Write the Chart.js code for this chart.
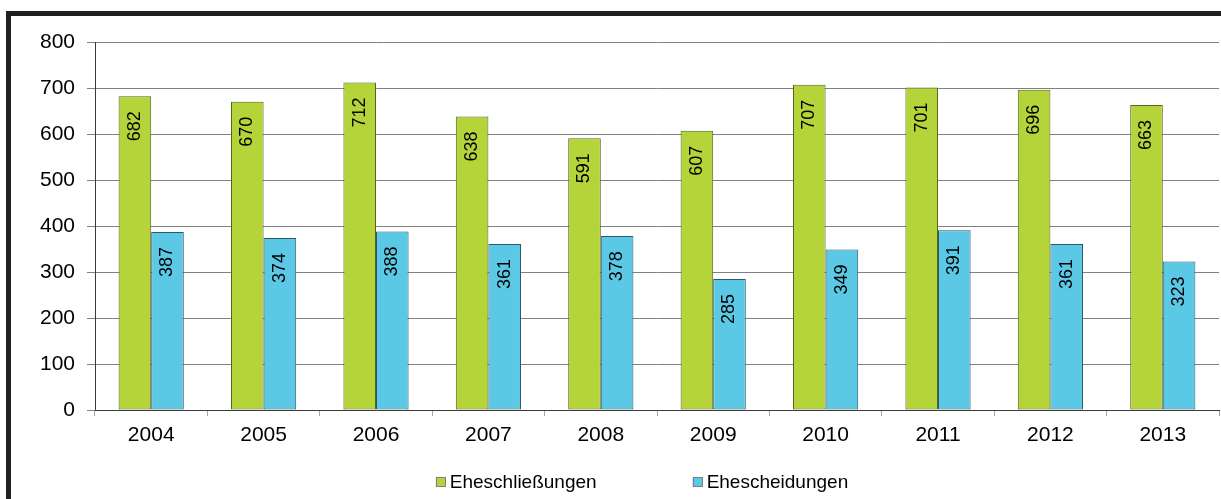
<!DOCTYPE html>
<html>
<head>
<meta charset="utf-8">
<script src="https://cdn.jsdelivr.net/npm/chart.js@4.4.1/dist/chart.umd.min.js"></script>
<style>
  html, body { margin: 0; padding: 0; background: #fff; }
  body { width: 1221px; height: 499px; position: relative; overflow: hidden; }
  #frame {
    position: absolute; left: 6px; top: 11px; right: 0; bottom: 0;
    border-left: 5px solid #231f20; border-top: 5px solid #231f20;
  }
  #chart { position: absolute; left: 0; top: 0; }
</style>
</head>
<body>
<div id="frame"><canvas id="chart" width="1210" height="483"></canvas></div>
<script>
const years = ['2004', '2005', '2006', '2007', '2008', '2009', '2010', '2011', '2012', '2013'];
const marriages = [682, 670, 712, 638, 591, 607, 707, 701, 696, 663];
const divorces = [387, 374, 388, 361, 378, 285, 349, 391, 361, 323];
const yTicks = [0, 100, 200, 300, 400, 500, 600, 700, 800];

const FONT = '"Liberation Sans", Arial, sans-serif';

// value labels, rotated, just under the top of each bar
const barLabels = {
  id: 'barLabels',
  afterDatasetsDraw(chart) {
    const ctx = chart.ctx;
    ctx.save();
    ctx.font = '18px ' + FONT;
    ctx.fillStyle = '#000';
    ctx.textAlign = 'right';
    ctx.textBaseline = 'middle';
    chart.data.datasets.forEach((ds, i) => {
      chart.getDatasetMeta(i).data.forEach((bar, j) => {
        ctx.save();
        ctx.translate(bar.x, bar.y + 15);
        ctx.rotate(-Math.PI / 2);
        ctx.fillText(String(ds.data[j]), 0, 0);
        ctx.restore();
      });
    });
    ctx.restore();
  }
};

// legend with the wide gap of the original
const wideLegend = {
  id: 'wideLegend',
  afterDraw(chart) {
    const ctx = chart.ctx;
    const box = 10, gap = 4, spacing = 96, centerX = 631, y = 466;
    ctx.save();
    ctx.font = '19px ' + FONT;
    ctx.textBaseline = 'middle';
    ctx.textAlign = 'left';
    const items = chart.data.datasets.map(ds => ({
      ds, w: box + gap + ctx.measureText(ds.label).width
    }));
    const total = items.reduce((s, it) => s + it.w, 0) + spacing * (items.length - 1);
    let x = centerX - total / 2;
    items.forEach(it => {
      ctx.fillStyle = it.ds.backgroundColor;
      ctx.fillRect(x, y - box / 2, box, box);
      ctx.strokeStyle = '#7f7f7f';
      ctx.lineWidth = 1;
      ctx.strokeRect(Math.round(x) + 0.5, Math.round(y - box / 2) + 0.5, box - 1, box - 1);
      ctx.fillStyle = '#000';
      ctx.fillText(it.ds.label, x + box + gap, y + 1);
      x += it.w + spacing;
    });
    ctx.restore();
  }
};

const chart = new Chart(document.getElementById('chart').getContext('2d'), {
  type: 'bar',
  data: {
    labels: years,
    datasets: [
      {
        label: 'Eheschließungen',
        data: marriages,
        backgroundColor: '#b5d43a',
        borderColor: '#56661a',
        borderWidth: 1,
        borderSkipped: false,
        categoryPercentage: 0.58,
        barPercentage: 1
      },
      {
        label: 'Ehescheidungen',
        data: divorces,
        backgroundColor: '#5bc9e5',
        borderColor: '#2a5a6a',
        borderWidth: 1,
        borderSkipped: false,
        categoryPercentage: 0.58,
        barPercentage: 1
      }
    ]
  },
  options: {
    responsive: false,
    devicePixelRatio: 1,
    animation: false,
    layout: { padding: { top: 26, right: 2, bottom: 49, left: 0 } },
    plugins: {
      legend: { display: false },
      tooltip: { enabled: false }
    },
    scales: {
      x: {
        offset: true,
        grid: {
          display: true,
          drawOnChartArea: false,
          drawTicks: true,
          tickLength: 6,
          color: '#a6a6a6',
          offset: true
        },
        border: { color: '#3a3a3a', width: 1 },
        ticks: { color: '#000', font: { family: FONT, size: 21 }, padding: 7 },
        afterFit: (scale) => { scale.height = 40; }
      },
      y: {
        min: 0,
        max: 800,
        afterBuildTicks: (scale) => { scale.ticks = yTicks.map(v => ({ value: v })); },
        grid: { color: '#808080', tickLength: 8, drawTicks: true },
        border: { color: '#3a3a3a', width: 1 },
        ticks: { color: '#000', font: { family: FONT, size: 21 }, padding: 12 },
        afterFit: (scale) => { scale.width = 84; }
      }
    }
  },
  plugins: [barLabels, wideLegend]
});
</script>
</body>
</html>
